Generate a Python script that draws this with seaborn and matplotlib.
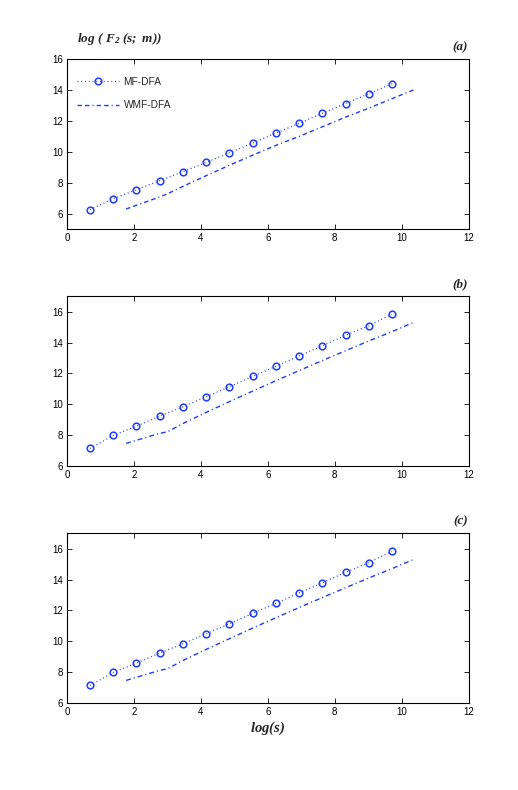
import numpy as np
import pandas as pd
import matplotlib
matplotlib.use("Agg")
import matplotlib.pyplot as plt
import seaborn as sns

# ---- data ----
mf_x = [0.69, 1.39, 2.08, 2.77, 3.47, 4.16, 4.85, 5.55, 6.24, 6.93, 7.62, 8.32, 9.01, 9.70]
mf_a = [6.26, 6.97, 7.55, 8.13, 8.72, 9.32, 9.94, 10.57, 11.22, 11.84, 12.49, 13.13, 13.76, 14.41]
mf_b = [7.14, 7.99, 8.59, 9.24, 9.84, 10.49, 11.14, 11.81, 12.46, 13.13, 13.78, 14.47, 15.09, 15.83]
mf_c = [7.14, 7.99, 8.59, 9.24, 9.84, 10.49, 11.14, 11.81, 12.46, 13.13, 13.78, 14.47, 15.09, 15.83]

wmf_x = [1.77, 2.77, 3.00, 3.47, 4.16, 4.85, 5.55, 6.24, 6.93, 7.62, 8.32, 9.01, 9.70, 10.40]
wmf_a = [6.30, 7.08, 7.28, 7.77, 8.46, 9.13, 9.79, 10.42, 11.00, 11.62, 12.25, 12.83, 13.44, 14.06]
wmf_b = [7.47, 8.12, 8.22, 8.76, 9.48, 10.17, 10.86, 11.53, 12.18, 12.83, 13.47, 14.10, 14.70, 15.35]
wmf_c = [7.47, 8.12, 8.22, 8.76, 9.48, 10.17, 10.86, 11.53, 12.18, 12.83, 13.47, 14.10, 14.70, 15.35]

panel_labels = ["(a)", "(b)", "(c)"]
ylims = [(5, 16), (6, 17), (6, 17)]
yticks = [[6, 8, 10, 12, 14, 16], [6, 8, 10, 12, 14, 16], [6, 8, 10, 12, 14, 16]]
xticks = [0, 2, 4, 6, 8, 10, 12]
series_names = ["MF-DFA", "WMF-DFA"]

sns.set_style("ticks")
plt.rcParams['font.family'] = ['Liberation Sans', 'DejaVu Sans']
plt.rcParams['mathtext.fontset'] = 'custom'
plt.rcParams['mathtext.it'] = 'Liberation Serif:italic:bold'
plt.rcParams['mathtext.rm'] = 'Liberation Serif:italic:bold'

fig = plt.figure(figsize=(5.18, 7.90), dpi=100)
blue = "#1f3cff"
bottoms = [0.710, 0.410, 0.110]
mfs = [mf_a, mf_b, mf_c]
wmfs = [wmf_a, wmf_b, wmf_c]
wdashes = [(3.2, 2.2, 3.2, 2.2, 0.8, 2.2), (3.5, 2.2, 0.8, 2.2), (3.5, 2.2, 0.8, 2.2)]

for i in range(3):
    ax = fig.add_axes([0.129, bottoms[i], 0.776, 0.215])
    df_mf = pd.DataFrame({"x": mf_x, "y": mfs[i]})
    df_w = pd.DataFrame({"x": wmf_x, "y": wmfs[i]})
    sns.lineplot(data=df_mf, x="x", y="y", ax=ax, color=blue, lw=0.9,
                 linestyle=(0, (0.8, 2.2)), marker="o", markersize=4.8,
                 markerfacecolor="none", markeredgecolor=blue, markeredgewidth=1.1,
                 label=series_names[0] if i == 0 else None, legend=False)
    sns.lineplot(data=df_w, x="x", y="y", ax=ax, color=blue, lw=1.0,
                 dashes=False, label=series_names[1] if i == 0 else None, legend=False)
    ax.lines[-1].set_dashes(wdashes[i])
    ax.set_xlim(0, 12)
    ax.set_ylim(*ylims[i])
    ax.set_xticks(xticks)
    ax.set_yticks(yticks[i])
    ax.set_xlabel("")
    ax.set_ylabel("")
    ax.tick_params(direction="in", top=True, right=True, length=3.5, width=0.6,
                   labelsize=7, colors="black", pad=2.5)
    for s in ax.spines.values():
        s.set_linewidth(0.8)
        s.set_color("black")
    ax.text(0.998, 1.035, panel_labels[i], transform=ax.transAxes, ha="right", va="bottom",
            fontsize=9.5, family="Liberation Serif", fontweight="bold", fontstyle="italic")
    if i == 0:
        ax.legend(loc="upper left", frameon=False, fontsize=7.3, handlelength=4.1,
                  handletextpad=0.5, borderaxespad=0.6, labelspacing=1.3,
                  bbox_to_anchor=(0.0, 0.955))
        ax.text(0.025, 1.07, r"$log\ (\ F_2\ (s;\ m))$", transform=ax.transAxes,
                ha="left", va="bottom", fontsize=9.5)
    if i == 2:
        ax.set_xlabel(r"$log(s)$", fontsize=10.5, labelpad=2)

fig.savefig("out.png", dpi=100)
